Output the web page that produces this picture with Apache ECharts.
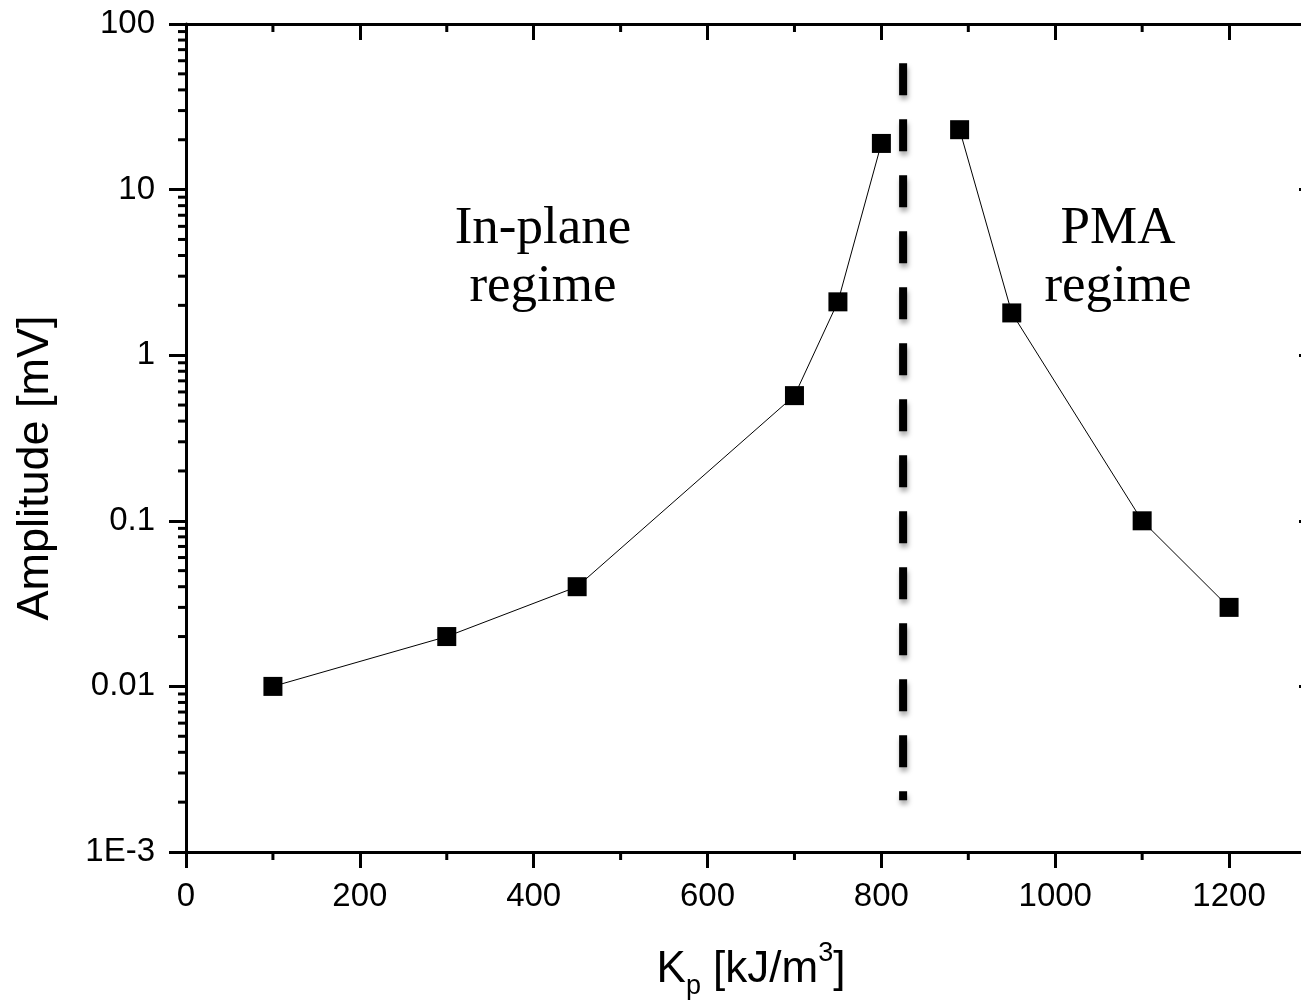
<!DOCTYPE html>
<html>
<head>
<meta charset="utf-8">
<script src="https://cdn.jsdelivr.net/npm/echarts@6/dist/echarts.min.js"></script>
<style>html,body{margin:0;padding:0;background:#fff;}#c{width:1301px;height:1008px;}</style>
</head>
<body>
<div id="c"></div>
<script>
// Data
const inPlaneK = [100, 300, 450, 700, 750, 800];
const inPlaneAmp = [0.01, 0.02, 0.04, 0.57, 2.1, 19];
const pmaK = [890, 950, 1100, 1200];
const pmaAmp = [23, 1.8, 0.1, 0.03];
const boundaryK = [825, 825];
const boundaryAmp = [58, 0.00205];
const xTicks = [0, 200, 400, 600, 800, 1000, 1200];
const xMinorTicks = [100, 300, 500, 700, 900, 1100, 1300];
const yTickLabels = {'100':'100','10':'10','1':'1','0.1':'0.1','0.01':'0.01','0.001':'1E-3'};
const yMinorTicks = [];
[0.001, 0.01, 0.1, 1, 10].forEach(function (d) { for (let k = 2; k <= 9; k++) yMinorTicks.push(Number((d * k).toPrecision(6))); });

const XMIN = 0, XMAX = 1300, YMIN = 0.001, YMAX = 100;
const black = '#000';
const tickFont = 33;

const chart = echarts.init(document.getElementById('c'));
function pair(xs, ys) { return xs.map(function (x, i) { return [x, ys[i]]; }); }

const option = {
  animation: false,
  backgroundColor: '#fff',
  grid: { left: 186, top: 24, width: 1130, height: 828, containLabel: false, outerBoundsMode: 'none' },
  xAxis: [{
    type: 'value', min: XMIN, max: XMAX, interval: 200, position: 'bottom',
    name: '{n|K}{sub|p}{n| [kJ/m}{sup|3}{n|]}', nameLocation: 'middle', nameGap: 88,
    nameTextStyle: {
      rich: {
        n: { fontFamily: 'Liberation Sans', fontSize: 44, color: black, lineHeight: 60 },
        sub: { fontFamily: 'Liberation Sans', fontSize: 27, color: black, lineHeight: 27, verticalAlign: 'bottom' },
        sup: { fontFamily: 'Liberation Sans', fontSize: 27, color: black, lineHeight: 47, verticalAlign: 'top' }
      }
    },
    axisLine: { show: true, onZero: false, lineStyle: { color: black, width: 3 } },
    axisTick: { show: true, inside: false, length: 16, lineStyle: { color: black, width: 3 } },
    axisLabel: {
      fontFamily: 'Liberation Sans', fontSize: tickFont, color: black, margin: 28,
      formatter: function (v) { return xTicks.indexOf(v) >= 0 ? String(v) : ''; }
    },
    splitLine: { show: false }
  }, {
    type: 'value', min: XMIN, max: XMAX, interval: 200, position: 'top',
    axisLine: { show: true, onZero: false, lineStyle: { color: black, width: 3 } },
    axisTick: { show: true, inside: true, length: 16, lineStyle: { color: black, width: 3 } },
    axisLabel: { show: false },
    splitLine: { show: false }
  }],
  yAxis: [{
    type: 'log', logBase: 10, min: YMIN, max: YMAX, position: 'left',
    name: 'Amplitude [mV]', nameLocation: 'middle', nameGap: 128, nameRotate: 90,
    nameTextStyle: { fontFamily: 'Liberation Sans', fontSize: 45, color: black, padding: [0, 60, 0, 0] },
    axisLine: { show: true, onZero: false, lineStyle: { color: black, width: 3 } },
    axisTick: { show: true, inside: false, length: 17, lineStyle: { color: black, width: 3 } },
    axisLabel: {
      fontFamily: 'Liberation Sans', fontSize: tickFont, color: black, margin: 31,
      formatter: function (v) { const k = String(Number(v.toPrecision(6))); return yTickLabels[k] !== undefined ? yTickLabels[k] : ''; }
    },
    splitLine: { show: false }
  }, {
    type: 'log', logBase: 10, min: YMIN, max: YMAX, position: 'right',
    axisLine: { show: true, onZero: false, lineStyle: { color: black, width: 3 } },
    axisTick: { show: true, inside: true, length: 17, lineStyle: { color: black, width: 3 } },
    axisLabel: { show: false },
    splitLine: { show: false }
  }],
  graphic: [{
    type: 'text', x: 543, y: 200, z: 10,
    style: { text: 'In-plane\nregime', align: 'center', verticalAlign: 'top', fontFamily: 'Liberation Serif', fontSize: 53, lineHeight: 58, fill: black }
  }, {
    type: 'text', x: 1118, y: 200, z: 10,
    style: { text: 'PMA\nregime', align: 'center', verticalAlign: 'top', fontFamily: 'Liberation Serif', fontSize: 53, lineHeight: 58, fill: black }
  }],
  series: [{
    type: 'line', xAxisIndex: 0, yAxisIndex: 0, data: pair(boundaryK, boundaryAmp),
    symbol: 'none', z: 1,
    lineStyle: { color: black, width: 8, type: [32, 24], cap: 'butt', shadowBlur: 5, shadowColor: 'rgba(0,0,0,0.35)', shadowOffsetX: 1, shadowOffsetY: 4 }
  }, {
    type: 'line', xAxisIndex: 0, yAxisIndex: 0, data: pair(inPlaneK, inPlaneAmp),
    symbol: 'rect', symbolSize: 19, itemStyle: { color: black }, lineStyle: { color: black, width: 1 }, z: 3
  }, {
    type: 'line', xAxisIndex: 0, yAxisIndex: 0, data: pair(pmaK, pmaAmp),
    symbol: 'rect', symbolSize: 19, itemStyle: { color: black }, lineStyle: { color: black, width: 1 }, z: 3
  }, {
    // minor ticks of the x axes (bottom outward, top inward)
    type: 'custom', xAxisIndex: 0, yAxisIndex: 0, clip: false, silent: true, z: 5,
    data: xMinorTicks,
    renderItem: function (params, api) {
      const v = api.value(0);
      const pb = api.coord([v, YMIN]);
      const pt = api.coord([v, YMAX]);
      return { type: 'group', children: [
        { type: 'line', shape: { x1: pb[0], y1: pb[1], x2: pb[0], y2: pb[1] + 8 }, style: { stroke: black, lineWidth: 3 } },
        { type: 'line', shape: { x1: pt[0], y1: pt[1], x2: pt[0], y2: pt[1] + 8 }, style: { stroke: black, lineWidth: 3 } }
      ] };
    }
  }, {
    // minor ticks of the y axes (left outward, right inward)
    type: 'custom', xAxisIndex: 0, yAxisIndex: 0, clip: false, silent: true, z: 5,
    data: yMinorTicks.map(function (v) { return [XMIN, v]; }),
    renderItem: function (params, api) {
      const v = api.value(1);
      const pl = api.coord([XMIN, v]);
      const pr = api.coord([XMAX, v]);
      return { type: 'group', children: [
        { type: 'line', shape: { x1: pl[0] - 8, y1: pl[1], x2: pl[0], y2: pl[1] }, style: { stroke: black, lineWidth: 3 } },
        { type: 'line', shape: { x1: pr[0] - 8, y1: pr[1], x2: pr[0], y2: pr[1] }, style: { stroke: black, lineWidth: 3 } }
      ] };
    }
  }]
};
chart.setOption(option);
</script>
</body>
</html>
